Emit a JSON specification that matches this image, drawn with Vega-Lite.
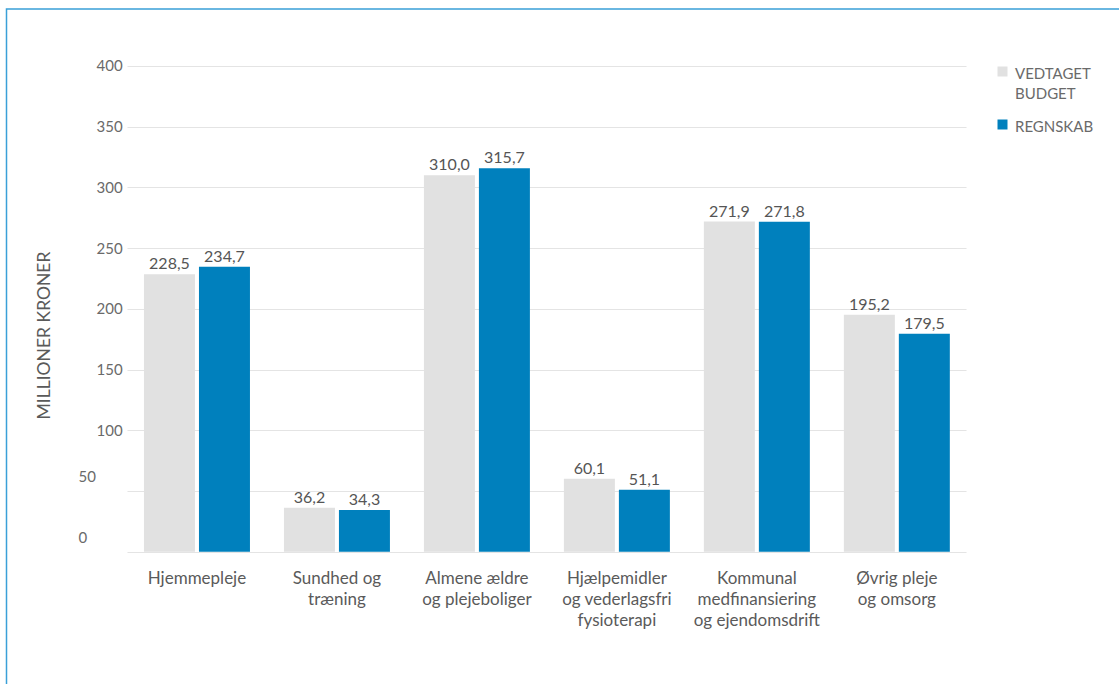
{
  "$schema": "https://vega.github.io/schema/vega-lite/v6.json",
  "width": 1117,
  "height": 680,
  "autosize": {"type": "none"},
  "padding": {"left": 6.5, "top": 9, "right": 0, "bottom": 0},
  "config": {
    "font": "Lato",
    "locale": {
      "number": {"decimal": ",", "thousands": ".", "grouping": [3], "currency": ["", " kr."]}
    },
    "view": {"stroke": "#3aa0d8", "strokeWidth": 1.5}
  },
  "data": {
    "values": [
      {"omraade": "Hjemmepleje", "serie": "Vedtaget budget", "beloeb": 228.5},
      {"omraade": "Hjemmepleje", "serie": "Regnskab", "beloeb": 234.7},
      {"omraade": "Sundhed og\ntræning", "serie": "Vedtaget budget", "beloeb": 36.2},
      {"omraade": "Sundhed og\ntræning", "serie": "Regnskab", "beloeb": 34.3},
      {"omraade": "Almene ældre\nog plejeboliger", "serie": "Vedtaget budget", "beloeb": 310.0},
      {"omraade": "Almene ældre\nog plejeboliger", "serie": "Regnskab", "beloeb": 315.7},
      {"omraade": "Hjælpemidler\nog vederlagsfri\nfysioterapi", "serie": "Vedtaget budget", "beloeb": 60.1},
      {"omraade": "Hjælpemidler\nog vederlagsfri\nfysioterapi", "serie": "Regnskab", "beloeb": 51.1},
      {"omraade": "Kommunal\nmedfinansiering\nog ejendomsdrift", "serie": "Vedtaget budget", "beloeb": 271.9},
      {"omraade": "Kommunal\nmedfinansiering\nog ejendomsdrift", "serie": "Regnskab", "beloeb": 271.8},
      {"omraade": "Øvrig pleje\nog omsorg", "serie": "Vedtaget budget", "beloeb": 195.2},
      {"omraade": "Øvrig pleje\nog omsorg", "serie": "Regnskab", "beloeb": 179.5}
    ]
  },
  "encoding": {
    "x": {
      "field": "omraade",
      "type": "nominal",
      "sort": null,
      "scale": {"paddingInner": 0, "paddingOuter": 0.99, "align": 0.4347},
      "axis": {
        "orient": "bottom",
        "offset": -137.3,
        "title": null,
        "domain": false,
        "ticks": false,
        "tickSize": 0,
        "grid": false,
        "labelAngle": 0,
        "labelAlign": "center",
        "labelBaseline": "top",
        "labelPadding": 19,
        "labelFontSize": 17,
        "labelLineHeight": 21,
        "labelColor": "#5a5a5a",
        "labelExpr": "split(datum.label, '\\n')"
      }
    },
    "xOffset": {
      "field": "serie",
      "type": "nominal",
      "sort": ["Vedtaget budget", "Regnskab"],
      "scale": {"paddingInner": 0.0727, "paddingOuter": 0.309}
    },
    "y": {
      "field": "beloeb",
      "type": "quantitative",
      "scale": {"domain": [-113.07, 446.94], "nice": false, "zero": false},
      "axis": {
        "orient": "left",
        "offset": -120.5,
        "values": [0, 50, 100, 150, 200, 250, 300, 350, 400],
        "domain": false,
        "ticks": false,
        "tickSize": 0,
        "grid": true,
        "gridColor": "#e4e4e4",
        "gridWidth": 1.2,
        "labelAlign": "left",
        "labelBaseline": "middle",
        "labelFontSize": 15,
        "labelColor": "#6a6a6a",
        "labelPadding": {"condition": {"test": "datum.value < 100", "value": 49}, "value": 31},
        "labelOffset": {"condition": {"test": "datum.value < 100", "value": -14}, "value": 0},
        "title": "MILLIONER KRONER",
        "titleFontSize": 17.5,
        "titleFontWeight": "normal",
        "titleColor": "#5a5a5a",
        "titleAngle": -90,
        "titleAlign": "center",
        "titleBaseline": "middle",
        "titleX": -83,
        "titleY": 326,
        "encoding": {
          "grid": {"x": {"value": 0}, "x2": {"value": 839}}
        }
      }
    }
  },
  "layer": [
    {
      "mark": {"type": "bar"},
      "encoding": {
        "color": {
          "field": "serie",
          "type": "nominal",
          "scale": {"domain": ["Vedtaget budget", "Regnskab"], "range": ["#e1e1e1", "#0080bd"]},
          "legend": {
            "orient": "none",
            "legendX": 988.5,
            "legendY": 55,
            "title": null,
            "padding": 0,
            "symbolType": "square",
            "symbolSize": 100,
            "symbolStrokeWidth": 0,
            "labelFontSize": 15,
            "labelColor": "#6a6a6a",
            "labelOffset": 5,
            "labelBaseline": "top",
            "rowPadding": 15,
            "labelExpr": "datum.label == 'Vedtaget budget' ? ['VEDTAGET', 'BUDGET'] : 'REGNSKAB'",
            "encoding": {
              "labels": {"dy": {"value": -5}, "lineHeight": {"value": 20}}
            }
          }
        }
      }
    },
    {
      "mark": {"type": "text", "baseline": "alphabetic", "dy": -5, "fontSize": 16, "color": "#555555"},
      "encoding": {
        "text": {"field": "beloeb", "type": "quantitative", "format": ".1f"}
      }
    }
  ]
}
